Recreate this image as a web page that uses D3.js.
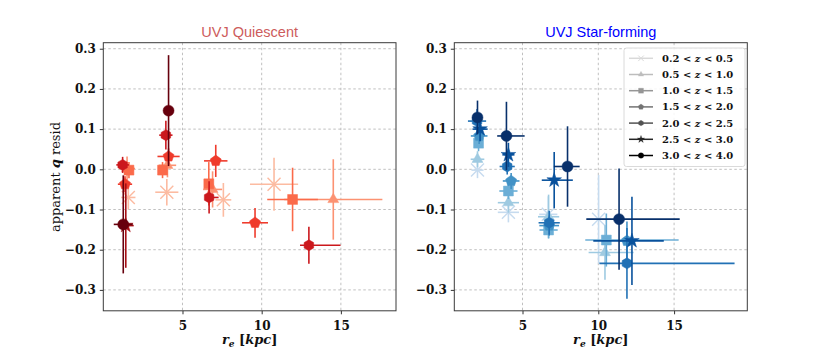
<!DOCTYPE html>
<html>
<head>
<meta charset="utf-8">
<script src="https://cdn.jsdelivr.net/npm/d3@7"></script>
<style>
  body { margin: 0; background: #fff; }
  svg { display: block; }
</style>
</head>
<body>
<div id="chart"></div>
<script>
// redshift bins (legend) and the marker used for each bin
const zLow = ['0.2', '0.5', '1.0', '1.5', '2.0', '2.5', '3.0']
const zHigh = ['0.5', '1.0', '1.5', '2.0', '2.5', '3.0', '4.0']
const binMarkers = ['x', 'triangle', 'square', 'pentagon', 'hexagon', 'star', 'circle']

const xTicks = [5, 10, 15]
const yTicks = [-0.3, -0.2, -0.1, 0.0, 0.1, 0.2, 0.3]

// one list per z bin, rows: [r_e, q resid, r_e err low, r_e err high, q resid err]
const quiescentPts = [
  [[1.58, -0.070, 0.45, 0.45, 0.030], [4.01, -0.057, 0.73, 0.73, 0.033], [7.58, -0.076, 0.50, 0.50, 0.042], [10.78, -0.037, 1.52, 1.52, 0.066]],
  [[1.50, 0.002, 0.50, 0.50, 0.030], [4.05, 0.010, 0.55, 0.55, 0.030], [6.90, -0.050, 0.60, 0.60, 0.045], [14.52, -0.075, 3.10, 3.10, 0.100]],
  [[1.62, -0.002, 0.30, 0.30, 0.020], [3.74, -0.002, 0.25, 0.25, 0.020], [6.66, -0.036, 0.20, 0.20, 0.054], [11.95, -0.075, 1.60, 1.60, 0.079]],
  [[1.37, -0.037, 0.45, 0.45, 0.020], [4.12, 0.032, 0.70, 0.70, 0.020], [7.10, 0.021, 0.74, 0.74, 0.040], [9.58, -0.133, 0.82, 0.82, 0.037]],
  [[1.22, 0.011, 0.40, 0.40, 0.020], [3.95, 0.085, 0.42, 0.42, 0.036], [6.68, -0.070, 0.20, 0.60, 0.040], [12.98, -0.189, 0.56, 2.00, 0.046]],
  [[1.42, -0.140, 0.50, 0.50, 0.105]],
  [[1.26, -0.137, 0.60, 0.60, 0.122], [4.12, 0.146, 0.15, 0.15, 0.138]]
]

const starformingPts = [
  [[2.03, -0.002, 0.40, 0.40, 0.020], [4.07, -0.107, 0.70, 0.70, 0.025], [6.70, -0.112, 0.60, 0.60, 0.045], [10.02, -0.124, 0.80, 0.80, 0.110]],
  [[2.03, 0.025, 0.45, 0.45, 0.020], [4.07, -0.083, 0.70, 0.70, 0.025], [6.72, -0.118, 0.70, 0.70, 0.055], [10.44, -0.207, 1.08, 1.89, 0.068]],
  [[2.10, 0.065, 0.25, 0.25, 0.020], [4.07, -0.054, 0.60, 0.60, 0.020], [6.72, -0.151, 0.60, 0.60, 0.020], [10.53, -0.176, 1.39, 4.77, 0.066]],
  [[2.14, 0.083, 0.55, 0.55, 0.020], [4.25, -0.029, 0.55, 0.55, 0.020], [6.76, -0.140, 0.65, 0.65, 0.025], [11.89, -0.178, 0.50, 0.50, 0.048]],
  [[2.00, 0.120, 0.60, 0.60, 0.030], [3.99, 0.007, 0.50, 0.50, 0.020], [6.76, -0.133, 0.70, 0.70, 0.030], [11.89, -0.234, 1.82, 7.10, 0.088]],
  [[2.20, 0.100, 0.50, 0.50, 0.030], [4.07, 0.036, 0.40, 0.40, 0.030], [7.09, -0.027, 0.82, 1.23, 0.070], [12.22, -0.178, 2.55, 2.10, 0.110]],
  [[2.03, 0.129, 0.30, 0.30, 0.042], [3.94, 0.083, 0.61, 1.20, 0.085], [7.97, 0.007, 0.90, 0.80, 0.100], [11.37, -0.124, 2.16, 4.00, 0.126]]
]

const redColors = d3.schemeReds[9].slice(2)
const blueColors = d3.schemeBlues[9].slice(2)
const greyColors = d3.schemeGreys[9].slice(2)

const serif = '"DejaVu Serif", "Liberation Serif", serif'

const width = 830
const height = 356

const svg = d3.select('#chart')
  .append('svg')
  .attr('width', width)
  .attr('height', height)

//marker shapes, s = size in px
function polygon(n, r, rot) {
  const pts = d3.range(n).map(i => {
    const a = rot + i * 2 * Math.PI / n
    return [r * Math.cos(a), r * Math.sin(a)]
  })
  return 'M' + pts.map(p => p.join(',')).join('L') + 'Z'
}
function markerPath(type, s) {
  const r = s / 2
  if (type === 'circle') return d3.symbol(d3.symbolCircle, Math.PI * r * r)()
  if (type === 'square') return `M${-r * 0.9},${-r * 0.9}h${s * 0.9}v${s * 0.9}h${-s * 0.9}Z`
  if (type === 'triangle') return polygon(3, r * 1.15, -Math.PI / 2)
  if (type === 'pentagon') return polygon(5, r * 1.05, -Math.PI / 2)
  if (type === 'hexagon') return polygon(6, r, -Math.PI / 2)
  if (type === 'star') return d3.symbol(d3.symbolStar, s * s * 0.55)()
  return `M${-r},${-r}L${r},${r}M${-r},${r}L${r},${-r}`
}

function drawPanel(opts) {
  const { left, right, top, bottom, xDomain, data, colors, title, titleColor } = opts

  const xScale = d3.scaleLinear().domain(xDomain).range([left, right])
  const yScale = d3.scaleLinear().domain([-0.352, 0.315]).range([bottom, top])

  const g = svg.append('g')

  //grid
  g.selectAll('.gx').data(xTicks).join('line')
    .attr('x1', d => xScale(d)).attr('x2', d => xScale(d))
    .attr('y1', top).attr('y2', bottom)
    .attr('stroke', '#b0b0b0').attr('stroke-width', 0.8).attr('stroke-dasharray', '2.5,2.5')
  g.selectAll('.gy').data(yTicks).join('line')
    .attr('x1', left).attr('x2', right)
    .attr('y1', d => yScale(d)).attr('y2', d => yScale(d))
    .attr('stroke', '#b0b0b0').attr('stroke-width', 0.8).attr('stroke-dasharray', '2.5,2.5')

  //axes
  const xAxis = d3.axisBottom(xScale).tickValues(xTicks).tickSize(3.5).tickPadding(4)
  const yAxis = d3.axisLeft(yScale).tickValues(yTicks).tickSize(3.5).tickPadding(4)
    .tickFormat(d => d3.format('.1f')(d).replace('-', '\u2212'))

  const xg = g.append('g').attr('transform', `translate(0,${bottom})`).call(xAxis)
  const yg = g.append('g').attr('transform', `translate(${left},0)`).call(yAxis)
  for (const ax of [xg, yg]) {
    ax.select('.domain').remove()
    ax.selectAll('line').attr('stroke', '#333')
    ax.selectAll('text')
      .attr('fill', '#111')
      .style('font-family', serif)
      .style('font-weight', 'bold')
      .style('font-size', '12px')
  }
  xg.selectAll('text').attr('dy', '0.95em')

  //data
  data.forEach((rows, i) => {
    const c = colors[i]
    const m = binMarkers[i]
    const sg = g.append('g')
    sg.selectAll('.ex').data(rows).join('line')
      .attr('x1', d => xScale(d[0] - d[2])).attr('x2', d => xScale(d[0] + d[3]))
      .attr('y1', d => yScale(d[1])).attr('y2', d => yScale(d[1]))
      .attr('stroke', c).attr('stroke-width', 1.6)
    sg.selectAll('.ey').data(rows).join('line')
      .attr('x1', d => xScale(d[0])).attr('x2', d => xScale(d[0]))
      .attr('y1', d => yScale(d[1] - d[4])).attr('y2', d => yScale(d[1] + d[4]))
      .attr('stroke', c).attr('stroke-width', 1.6)
    sg.selectAll('.mk').data(rows).join('path')
      .attr('transform', d => `translate(${xScale(d[0])},${yScale(d[1])})`)
      .attr('d', markerPath(m, m === 'x' ? 13 : 11))
      .attr('fill', m === 'x' ? 'none' : c)
      .attr('stroke', c)
      .attr('stroke-width', m === 'x' ? 1.4 : 0.5)
  })

  //frame
  g.append('rect')
    .attr('x', left).attr('y', top)
    .attr('width', right - left).attr('height', bottom - top)
    .attr('fill', 'none').attr('stroke', '#3a3a3a').attr('stroke-width', 1)

  //title
  g.append('text')
    .attr('x', (left + right) / 2).attr('y', top - 5.5)
    .attr('text-anchor', 'middle')
    .attr('fill', titleColor)
    .style('font-family', '"Liberation Sans", Arial, sans-serif')
    .style('font-size', '14.5px')
    .text(title)

  //x label
  const xl = g.append('text')
    .attr('x', (left + right) / 2).attr('y', bottom + 33)
    .attr('text-anchor', 'middle')
    .attr('fill', '#111')
    .style('font-family', serif)
    .style('font-weight', 'bold')
    .style('font-size', '13px')
  xl.append('tspan').style('font-style', 'italic').text('r')
  xl.append('tspan').attr('dy', 3).style('font-size', '9px').style('font-style', 'italic').text('e')
  xl.append('tspan').attr('dy', -3).text(' [')
  xl.append('tspan').style('font-style', 'italic').text('kpc')
  xl.append('tspan').text(']')

  return { xScale, yScale }
}

drawPanel({
  left: 103.3, right: 396, top: 42.7, bottom: 310.8,
  xDomain: [0, 18.48],
  data: quiescentPts, colors: redColors,
  title: 'UVJ Quiescent', titleColor: '#cd5c5c'
})

drawPanel({
  left: 454.3, right: 747.3, top: 42.7, bottom: 310.8,
  xDomain: [0.5, 19.83],
  data: starformingPts, colors: blueColors,
  title: 'UVJ Star-forming', titleColor: '#0000ff'
})

//y label
const yl = svg.append('text')
  .attr('transform', 'translate(60,177) rotate(-90)')
  .attr('text-anchor', 'middle')
  .attr('fill', '#111')
  .style('font-family', serif)
  .style('font-size', '13px')
yl.append('tspan').text('apparent ')
yl.append('tspan').style('font-style', 'italic').style('font-weight', 'bold').text('q')
yl.append('tspan').text(' resid')

//legend
const lg = svg.append('g').attr('transform', 'translate(624,48)')
lg.append('rect')
  .attr('width', 121).attr('height', 118.5).attr('rx', 2.5)
  .attr('fill', 'rgba(255,255,255,0.85)').attr('stroke', '#d0d0d0').attr('stroke-width', 0.8)

const rows = lg.selectAll('.row').data(zLow).join('g')
  .attr('transform', (d, i) => `translate(0,${10.3 + i * 16.2})`)
rows.append('line')
  .attr('x1', 5).attr('x2', 29)
  .attr('stroke', (d, i) => greyColors[i]).attr('stroke-width', 1.5)
rows.append('path')
  .attr('transform', 'translate(17,0)')
  .attr('d', (d, i) => markerPath(binMarkers[i], 5.5))
  .attr('fill', (d, i) => binMarkers[i] === 'x' ? 'none' : greyColors[i])
  .attr('stroke', (d, i) => greyColors[i])
  .attr('stroke-width', (d, i) => binMarkers[i] === 'x' ? 1 : 0.3)
const lt = rows.append('text')
  .attr('x', 38).attr('dy', '0.35em')
  .attr('fill', '#111')
  .style('font-family', serif)
  .style('font-weight', 'bold')
  .style('font-size', '10px')
lt.append('tspan').text(d => d + ' < ')
lt.append('tspan').style('font-style', 'italic').text('z')
lt.append('tspan').text((d, i) => ' < ' + zHigh[i])
</script>
</body>
</html>
